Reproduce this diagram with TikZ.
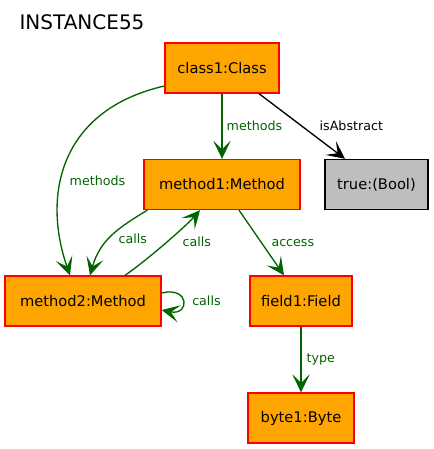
\documentclass[tikz,border=0pt]{standalone}
\usepackage{fontspec}
\setmainfont{DejaVu Sans}
\usetikzlibrary{arrows.meta}

\definecolor{objorange}{RGB}{255,165,0}
\definecolor{linkgreen}{RGB}{0,100,0}
\definecolor{boolgray}{RGB}{190,190,190}

\tikzset{every picture/.style={line width=0.75pt}}
\tikzset{
	obj/.style={draw=red, fill=objorange, line width=1pt, minimum height=37.5pt, inner sep=0pt, font=\fontsize{11}{13}\selectfont},
	val/.style={obj, draw=black, fill=boolgray},
	link/.style={color=linkgreen, line width=1pt, -{Stealth[length=13.5pt,width=13pt,inset=6.5pt]}},
	attr/.style={link, color=black},
	lbl/.style={text=linkgreen, inner sep=2pt, font=\fontsize{9.5}{11}\selectfont},
	attrlbl/.style={lbl, text=black},
}

\begin{document}
\begin{tikzpicture}[x=0.75pt,y=0.75pt,yscale=-1,xscale=1]
	\useasboundingbox (0,0) rectangle (433,449);

	% Title
	\node[font=\fontsize{15}{18}\selectfont] (title) at (82,22) {INSTANCE55};

	% Objects
	\node[obj, minimum width=85.5pt] (class1) at (222,68) {class1:Class};
	\node[obj, minimum width=117pt] (method1) at (222,184.5) {method1:Method};
	\node[val, minimum width=77.25pt] (true) at (376.5,184.5) {true:(Bool)};
	\node[obj, minimum width=117pt] (method2) at (83,301) {method2:Method};
	\node[obj, minimum width=76.5pt] (field1) at (301,301) {field1:Field};
	\node[obj, minimum width=79.5pt] (byte1) at (301,418) {byte1:Byte};

	% Links
	\draw[link] (class1) -- (method1) node[lbl, midway, right=1pt] {methods};
	\draw[attr] ([xshift=27.75pt]class1.south) -- ([xshift=-23.6pt]true.north) node[attrlbl, midway, right=10.75pt] {isAbstract};
	\draw[link] ([yshift=13.5pt]class1.west) .. controls (60,110) and (42,195) .. ([xshift=-9.75pt]method2.north) node[lbl, pos=.6, right=4pt] {methods};
	\draw[link] ([xshift=3pt]method1.south west) .. controls (118,228) and (100,240) .. ([xshift=5.25pt]method2.north) node[lbl, pos=.55, right=5pt] {calls};
	\draw[link] ([xshift=31.5pt]method2.north) .. controls (150,258) and (188,224) .. ([xshift=-16.5pt]method1.south) node[lbl, pos=.5, right=9pt] {calls};
	\draw[link] ([yshift=-6pt]method2.east) .. controls (190,286) and (190,316) .. ([yshift=6.75pt]method2.east) node[lbl, pos=.5, right=4.5pt] {calls};
	\draw[link] ([xshift=12.75pt]method1.south) -- ([xshift=-12.75pt]field1.north) node[lbl, midway, right=5pt] {access};
	\draw[link] (field1) -- (byte1) node[lbl, midway, right=1.75pt] {type};

\end{tikzpicture}
\end{document}
